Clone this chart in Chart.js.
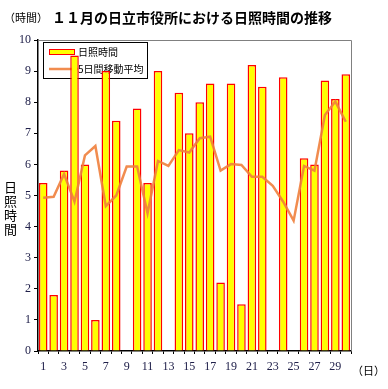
<!DOCTYPE html>
<html>
<head>
<meta charset="utf-8">
<script src="https://cdn.jsdelivr.net/npm/chart.js@4.4.0/dist/chart.umd.min.js"></script>
<style>
  body { margin: 0; background: #fff; }
  #wrap { position: relative; width: 388px; height: 389px; font-family: "Noto Sans CJK JP", sans-serif; }
  .txt { position: absolute; color: #000; white-space: nowrap; }
</style>
</head>
<body>
<div id="wrap">
  <canvas id="grafica" width="388" height="389"></canvas>
  <div class="txt" style="left:4px; top:9px; font-size:11px;">（時間）</div>
  <div class="txt" style="left:52px; top:7px; font-size:14px; font-weight:bold;">１１月の日立市役所における日照時間の推移</div>
  <div class="txt" style="left:4px; top:180px; font-size:13px; line-height:14px; width:14px; white-space:normal;">日照時間</div>
  <div class="txt" style="left:352px; top:362px; font-size:11px;">（日）</div>
</div>
<script>
const dias = ['1','2','3','4','5','6','7','8','9','10','11','12','13','14','15','16','17','18','19','20','21','22','23','24','25','26','27','28','29','30'];
const horasSol = [5.4, 1.8, 5.8, 9.5, 6.0, 1.0, 9.0, 7.4, 0, 7.8, 5.4, 9.0, 0, 8.3, 7.0, 8.0, 8.6, 2.2, 8.6, 1.5, 9.2, 8.5, 0, 8.8, 0, 6.2, 6.0, 8.7, 8.1, 8.9];
const media5 = [4.93, 4.96, 5.69, 4.8, 6.29, 6.59, 4.66, 5.0, 5.93, 5.93, 4.43, 6.11, 5.95, 6.46, 6.38, 6.84, 6.89, 5.8, 6.01, 5.98, 5.6, 5.6, 5.31, 4.8, 4.19, 5.95, 5.8, 7.59, 8.02, 7.37];
const ticksY = [0, 1, 2, 3, 4, 5, 6, 7, 8, 9, 10];

const colorTick = '#20204a';

// leyenda dibujada dentro del area, debajo de las barras
const leyenda = {
  id: 'leyenda',
  beforeDatasetsDraw(chart) {
    const c = chart.ctx;
    c.save();
    c.fillStyle = '#fff';
    c.strokeStyle = '#000';
    c.lineWidth = 1;
    c.fillRect(43.5, 42.5, 104, 36);
    c.strokeRect(43.5, 42.5, 104, 36);
    c.fillStyle = '#ffff00';
    c.strokeStyle = '#ff0000';
    c.fillRect(49.5, 49.5, 25, 5);
    c.strokeRect(49.5, 49.5, 25, 5);
    c.strokeStyle = 'rgba(240,128,60,0.9)';
    c.lineWidth = 2.5;
    c.beginPath();
    c.moveTo(49, 69);
    c.lineTo(78, 69);
    c.stroke();
    c.fillStyle = '#000';
    c.font = '10px "Noto Sans CJK JP"';
    c.textBaseline = 'middle';
    c.fillText('日照時間', 78, 52);
    c.fillText('5日間移動平均', 78, 69);
    c.restore();
  }
};

// borde gris arriba y derecha
const marco = {
  id: 'marco',
  beforeDatasetsDraw(chart) {
    const a = chart.chartArea;
    const c = chart.ctx;
    c.save();
    c.strokeStyle = '#808080';
    c.lineWidth = 1;
    c.beginPath();
    c.moveTo(a.left, a.top + 0.5);
    c.lineTo(a.right + 0.5, a.top + 0.5);
    c.lineTo(a.right + 0.5, a.bottom);
    c.stroke();
    c.restore();
  }
};

const ctx = document.getElementById('grafica').getContext('2d');

const grafica = new Chart(ctx, {
  data: {
    labels: dias,
    datasets: [{
      type: 'line',
      label: '5日間移動平均',
      data: media5,
      borderColor: 'rgba(240,128,60,0.9)',
      borderWidth: 2.5,
      pointRadius: 0,
      tension: 0,
      order: 0
    }, {
      type: 'bar',
      label: '日照時間',
      data: horasSol,
      backgroundColor: '#ffff00',
      borderColor: '#ff0000',
      borderWidth: 1.5,
      barPercentage: 0.82,
      categoryPercentage: 1.0,
      order: 1
    }]
  },
  options: {
    responsive: false,
    animation: false,
    layout: { padding: { left: 0, right: 37, top: 40, bottom: 0 } },
    plugins: {
      legend: { display: false },
      tooltip: { enabled: false }
    },
    scales: {
      x: {
        offset: true,
        grid: { display: true, drawOnChartArea: false, offset: true, tickLength: 3, color: '#000' },
        border: { color: '#000', width: 1.5 },
        ticks: {
          autoSkip: false,
          maxRotation: 0,
          color: colorTick,
          font: { family: '"Liberation Serif"', size: 12 },
          padding: 6,
          callback: (v, i) => (i % 2 === 0 ? dias[i] : '')
        },
        afterFit: s => { s.height = 38; }
      },
      y: {
        min: 0,
        max: 10,
        afterBuildTicks: s => { s.ticks = ticksY.map(v => ({ value: v })); },
        grid: { display: true, drawOnChartArea: false, tickLength: 4, color: '#000' },
        border: { color: '#000', width: 1.5 },
        ticks: {
          color: colorTick,
          font: { family: '"Liberation Serif"', size: 12 },
          padding: 3
        },
        afterFit: s => { s.width = 38; }
      }
    }
  },
  plugins: [leyenda, marco]
});
</script>
</body>
</html>
